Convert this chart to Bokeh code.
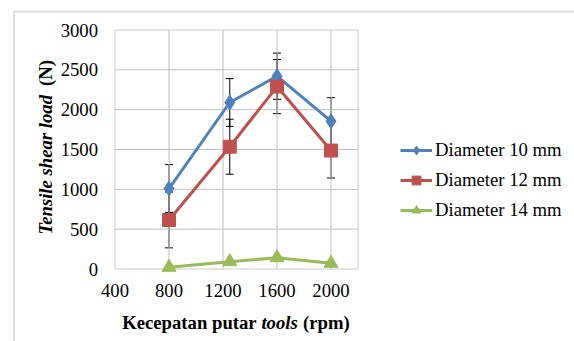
from bokeh.plotting import figure
from bokeh.models import (ColumnDataSource, FixedTicker, Legend, LegendItem, Whisker,
                          TeeHead, Label, PolyAnnotation, BoxAnnotation)
from bokeh.embed import file_html
from bokeh.resources import INLINE
import math

# ---- data ----
rpm = [800, 1250, 1600, 2000]
d10 = [1010, 2090, 2420, 1855]
d10_err = [300, 300, 290, 295]
d12 = [615, 1535, 2290, 1487]
d12_err = [350, 345, 340, 345]
d14 = [22, 92, 142, 72]
series_names = ["Diameter 10 mm", "Diameter 12 mm", "Diameter 14 mm"]
x_ticks = [400, 800, 1200, 1600, 2000]
y_ticks = [0, 500, 1000, 1500, 2000, 2500, 3000]

# plot-area extent in data units
X0, X1 = 400, 2200
Y0, Y1 = 0, 3000

# canvas and plot-area geometry (pixels)
W, H = 574, 341
PL, PR = 114.5, 357.5     # plot area left / right
PT, PB = 29.5, 268.5      # plot area top / bottom
KX = (X1 - X0) / (PR - PL)
KY = (Y1 - Y0) / (PB - PT)

def dx(px):
    return X0 + (px - PL) * KX

def dy(py):
    return Y0 + (PB - py) * KY

FONT = "'Liberation Serif', 'Times New Roman', serif"
FS = "18.7px"
blue = "#4F81BD"
red = "#C0504D"
green = "#9BBB59"

# the frame spans the whole canvas; the plot area is drawn inside it
p = figure(width=W, height=H, x_range=(dx(0), dx(W)), y_range=(dy(H), dy(0)),
           output_backend="svg", toolbar_location=None,
           min_border=0, min_border_left=0, min_border_right=0,
           min_border_top=0, min_border_bottom=0)
p.outline_line_color = None
p.background_fill_color = "white"
p.border_fill_color = "white"
p.grid.visible = False

# axes drawn at the edges of the plot area
p.xaxis.fixed_location = Y0
p.yaxis.fixed_location = X0
for ax in (p.xaxis[0], p.yaxis[0]):
    ax.axis_line_color = None
    ax.major_tick_line_color = None
    ax.minor_tick_line_color = None
    ax.major_label_text_font = FONT
    ax.major_label_text_font_size = FS
    ax.major_label_text_color = "black"
p.xaxis.ticker = FixedTicker(ticks=x_ticks)
p.yaxis.ticker = FixedTicker(ticks=y_ticks)
p.xaxis.major_label_standoff = 9
p.yaxis.major_label_standoff = 11

# grid lines inside the plot area
gx = [t for t in x_ticks if X0 < t < X1]
gy = [t for t in y_ticks if Y0 < t < Y1]
p.segment(x0=gx, y0=[Y0] * len(gx), x1=gx, y1=[Y1] * len(gx),
          line_color="#bfbfbf", line_width=1)
p.segment(x0=[X0] * len(gy), y0=gy, x1=[X1] * len(gy), y1=gy,
          line_color="#bfbfbf", line_width=1)

# plot-area border
p.add_layout(BoxAnnotation(left=X0, right=X1, bottom=Y0, top=Y1, fill_alpha=0,
                           line_color="#505050", line_width=1, level="underlay"))

# outer chart border (left and top edges visible)
p.add_layout(PolyAnnotation(xs=[dx(13.5), dx(13.5), dx(900), dx(900)],
                            ys=[dy(900), dy(11), dy(11), dy(900)],
                            fill_alpha=0, line_color="#909090", line_width=2))

src10 = ColumnDataSource(dict(x=rpm, y=d10, lo=[a - b for a, b in zip(d10, d10_err)],
                              hi=[a + b for a, b in zip(d10, d10_err)]))
src12 = ColumnDataSource(dict(x=rpm, y=d12, lo=[a - b for a, b in zip(d12, d12_err)],
                              hi=[a + b for a, b in zip(d12, d12_err)]))
src14 = ColumnDataSource(dict(x=rpm, y=d14))

l10 = p.line("x", "y", source=src10, line_color=blue, line_width=3)
m10 = p.scatter("x", "y", source=src10, marker="diamond", size=15, color=blue)
l12 = p.line("x", "y", source=src12, line_color=red, line_width=3)
m12 = p.scatter("x", "y", source=src12, marker="square", size=13, color=red)
l14 = p.line("x", "y", source=src14, line_color=green, line_width=3)
m14 = p.scatter("x", "y", source=src14, marker="triangle", size=14, color=green)

for s in (src10, src12):
    w = Whisker(source=s, base="x", lower="lo", upper="hi", line_color="black", line_width=1,
                upper_head=TeeHead(size=8, line_color="black", line_width=1),
                lower_head=TeeHead(size=8, line_color="black", line_width=1))
    p.add_layout(w)

legend = Legend(items=[LegendItem(label=series_names[0], renderers=[l10, m10]),
                       LegendItem(label=series_names[1], renderers=[l12, m12]),
                       LegendItem(label=series_names[2], renderers=[l14, m14])],
                location=(400, H - 220.5), orientation="vertical")
legend.border_line_color = None
legend.background_fill_alpha = 0
legend.padding = 0
legend.margin = 0
legend.spacing = 8
legend.glyph_width = 32
legend.glyph_height = 22
legend.label_height = 22
legend.label_standoff = 3
legend.label_text_font = FONT
legend.label_text_font_size = FS
legend.label_text_color = "black"
p.add_layout(legend, "center")

# axis titles with mixed styles
def lab(px, py, text, style, align="left", angle=0.0, baseline="alphabetic"):
    p.add_layout(Label(x=dx(px), y=dy(py), text=text, text_font=FONT, text_font_size=FS,
                       text_font_style=style, text_align=align, text_baseline=baseline,
                       angle=angle, text_color="black"))

lab(121.7, 321.5, "Kecepatan putar", "bold")
lab(260.9, 321.5, "tools", "bold italic")
lab(349.3, 321.5, "(rpm)", "bold", align="right")

lab(45, 234, "Tensile shear load", "bold italic", align="left",
    angle=math.pi / 2, baseline="middle")
lab(45, 59.5, "(N)", "bold", align="right", angle=math.pi / 2, baseline="middle")

open("out.html", "w").write(file_html(p, INLINE))
